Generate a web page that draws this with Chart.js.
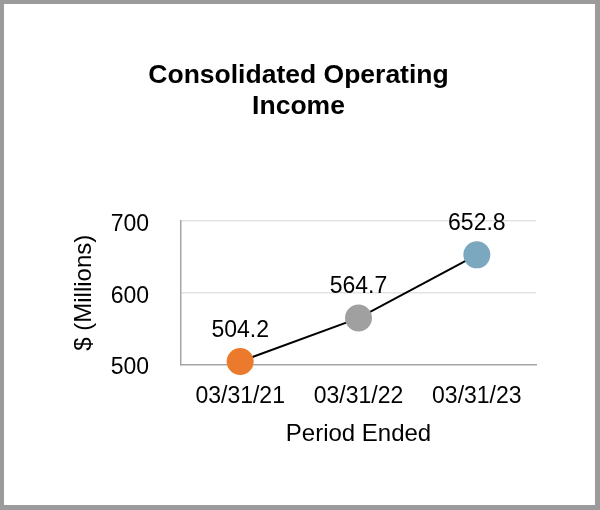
<!DOCTYPE html>
<html>
<head>
<meta charset="utf-8">
<script src="https://cdn.jsdelivr.net/npm/chart.js@4.4.1/dist/chart.umd.min.js"></script>
<style>
  html, body { margin: 0; padding: 0; background: #fff; }
  #frame {
    position: absolute; left: 0; top: 0;
    width: 600px; height: 510px; box-sizing: border-box;
    border-style: solid; border-color: #9b9b9b;
    border-width: 4px 5px 5px 4px;
    background: #fff;
  }
  canvas { display: block; }
</style>
</head>
<body>
<div id="frame"><canvas id="c" width="591" height="501"></canvas></div>
<script>
const categories = ['03/31/21', '03/31/22', '03/31/23'];
const values = [504.2, 564.7, 652.8];
const pointColors = ['#ec7a2c', '#a0a0a0', '#7ba8bf'];
const yTicks = [500, 600, 700];
const titleLines = ['Consolidated Operating', 'Income'];
const xTitle = 'Period Ended';
const yTitle = '$ (Millions)';

const FONT = "'Liberation Sans', Arial, sans-serif";

const valueLabels = {
  id: 'valueLabels',
  afterDatasetsDraw(chart) {
    const ctx = chart.ctx;
    const meta = chart.getDatasetMeta(0);
    ctx.save();
    ctx.font = '23px ' + FONT;
    ctx.fillStyle = '#000';
    ctx.textAlign = 'center';
    ctx.textBaseline = 'middle';
    meta.data.forEach((pt, i) => {
      ctx.fillText(values[i].toFixed(1), pt.x, pt.y - 31);
    });
    ctx.restore();
  }
};

const pageTitle = {
  id: 'pageTitle',
  afterDraw(chart) {
    const ctx = chart.ctx;
    ctx.save();
    ctx.font = 'bold 26.5px ' + FONT;
    ctx.fillStyle = '#000';
    ctx.textAlign = 'center';
    ctx.textBaseline = 'middle';
    const cx = chart.width / 2 - 1;
    titleLines.forEach((t, i) => ctx.fillText(t, cx, 72 + i * 31));
    ctx.restore();
  }
};

new Chart(document.getElementById('c'), {
  type: 'line',
  data: {
    labels: categories,
    datasets: [{
      data: values,
      borderColor: '#000',
      borderWidth: 2,
      pointRadius: 13.5,
      pointHoverRadius: 13.5,
      pointBackgroundColor: pointColors,
      pointBorderWidth: 0,
      pointBorderColor: pointColors,
      fill: false,
      tension: 0,
      clip: false
    }]
  },
  options: {
    responsive: false,
    animation: false,
    devicePixelRatio: 1,
    events: [],
    layout: { padding: { left: 0, right: 59, top: 217, bottom: 0 } },
    plugins: {
      legend: { display: false },
      tooltip: { enabled: false },
      title: { display: false }
    },
    scales: {
      x: {
        type: 'category',
        offset: true,
        afterFit(scale) { scale.height = 140.5; },
        grid: { display: false, drawTicks: false },
        border: { display: true, color: '#a6a6a6', width: 1.5 },
        ticks: {
          color: '#000',
          font: { family: FONT, size: 23, lineHeight: 1.2 },
          padding: 18.5,
          maxRotation: 0
        },
        title: {
          display: true,
          text: xTitle,
          color: '#000',
          font: { family: FONT, size: 24, lineHeight: 1.2 },
          padding: { top: 0, bottom: 56.6 }
        }
      },
      y: {
        min: 500,
        max: 700,
        afterBuildTicks(scale) { scale.ticks = yTicks.map(v => ({ value: v })); },
        afterFit(scale) { scale.width = 177; },
        grid: {
          drawTicks: false,
          color: ctx => (ctx.tick && ctx.tick.value === 500) ? 'rgba(0,0,0,0)' : '#e3e3e3',
          lineWidth: 1.5
        },
        border: { display: true, color: '#a6a6a6', width: 1.5 },
        ticks: {
          color: '#000',
          font: { family: FONT, size: 23, lineHeight: 1.2 },
          padding: 32,
          labelOffset: 3.5
        },
        title: {
          display: true,
          text: yTitle,
          color: '#000',
          font: { family: FONT, size: 24, lineHeight: 1.2 },
          padding: { top: 65.6, bottom: 0 }
        }
      }
    }
  },
  plugins: [valueLabels, pageTitle]
});
</script>
</body>
</html>
